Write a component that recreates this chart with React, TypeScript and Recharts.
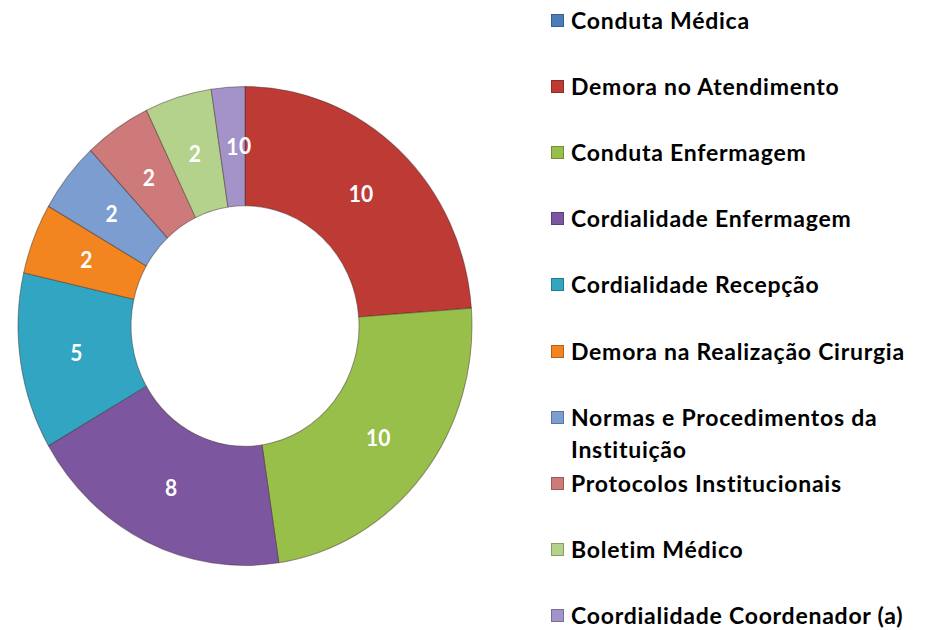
import React from 'react';
import { PieChart, Pie, Cell, Legend } from 'recharts';

const categories = [
  'Conduta Médica',
  'Demora no Atendimento',
  'Conduta Enfermagem',
  'Cordialidade Enfermagem',
  'Cordialidade Recepção',
  'Demora na Realização Cirurgia',
  'Normas e Procedimentos da Instituição',
  'Protocolos Institucionais',
  'Boletim Médico',
  'Coordialidade Coordenador (a)',
];
const values = [0, 10, 10, 8, 5, 2, 2, 2, 2, 1];
const colors = [
  '#4A7EBB',
  '#BE3B35',
  '#98BF4A',
  '#7D56A0',
  '#31A5C2',
  '#F2851F',
  '#7C9DD0',
  '#CF7A7A',
  '#B5D28C',
  '#A493C9',
];

const data = categories.map((name, i) => ({ name, value: values[i] }));

const RADIAN = Math.PI / 180;

const renderLabel = (props: any) => {
  const { cx, cy, midAngle, innerRadius, outerRadius, value } = props;
  const r = (innerRadius + outerRadius) / 2;
  const x = cx + r * Math.cos(-midAngle * RADIAN);
  const y = cy + r * Math.sin(-midAngle * RADIAN);
  return (
    <text
      x={x}
      y={y}
      fill="#fff"
      textAnchor="middle"
      dominantBaseline="central"
      fontSize={21}
      fontWeight={700}
      fontFamily="Lato, sans-serif"
    >
      {value}
    </text>
  );
};

// legend keeps the data order (Recharts would sort it by name otherwise)
const LegendContent = () => (
  <div style={{ position: 'relative', width: 370, height: 630 }}>
    {categories.map((name, i) => (
      <div
        key={name}
        style={{
          position: 'absolute',
          top: 4 + i * 66.1,
          left: 0,
          width: 370,
          display: 'flex',
          alignItems: 'flex-start',
        }}
      >
        <span
          style={{
            flex: '0 0 auto',
            width: 11,
            height: 11,
            marginTop: 10,
            marginRight: 7,
            background: colors[i],
            border: '1px solid rgba(0,0,0,0.25)',
          }}
        />
        <span
          style={{
            width: 340,
            fontFamily: 'Lato, sans-serif',
            fontWeight: 700,
            fontSize: 23,
            letterSpacing: 0.75,
            lineHeight: '32px',
            color: '#000',
          }}
        >
          {name}
        </span>
      </div>
    ))}
  </div>
);

export default function App() {
  return (
    <div className="donut" style={{ width: 928, height: 630, background: '#fff' }}>
      <style>{`
        body { margin: 0; }
        .donut .recharts-surface { transform: scaleY(1.055); transform-origin: 245px 326px; }
      `}</style>
      <PieChart width={928} height={630} margin={{ top: 0, right: 0, bottom: 0, left: 0 }}>
        <Pie
          data={data}
          dataKey="value"
          nameKey="name"
          cx={245}
          cy={326}
          outerRadius={227}
          innerRadius={114}
          startAngle={90}
          endAngle={-270}
          stroke="rgba(60,40,40,0.45)"
          strokeWidth={1}
          label={renderLabel}
          labelLine={false}
          isAnimationActive={false}
        >
          {data.map((d, i) => (
            <Cell key={d.name} fill={colors[i]} />
          ))}
        </Pie>
        <Legend
          layout="vertical"
          verticalAlign="top"
          align="right"
          content={<LegendContent />}
          wrapperStyle={{ position: 'absolute', left: 551, top: 0, width: 370 }}
        />
      </PieChart>
    </div>
  );
}
